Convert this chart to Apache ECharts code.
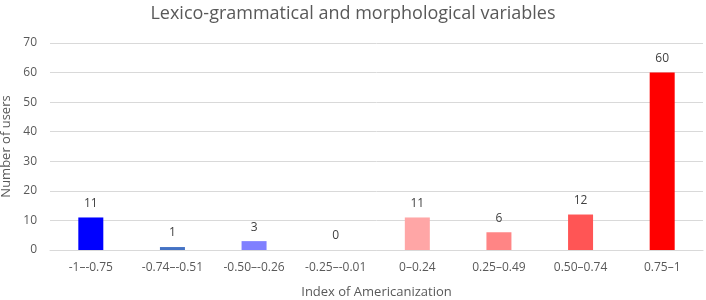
<!DOCTYPE html>
<html>
<head>
<meta charset="utf-8">
<script src="https://cdn.jsdelivr.net/npm/echarts@6/dist/echarts.min.js"></script>
<style>
  html, body { margin: 0; padding: 0; background: #fff; }
  #chart { width: 706px; height: 300px; }
</style>
</head>
<body>
<div id="chart"></div>
<script>
const categories = ['-1–-0.75', '-0.74–-0.51', '-0.50–-0.26', '-0.25–-0.01', '0–0.24', '0.25–0.49', '0.50–0.74', '0.75–1']
const users = [11, 1, 3, 0, 11, 6, 12, 60]
const barColors = ['#0000ff', '#4472c4', '#8080ff', '#c0c0c0', '#ffa6a6', '#ff8585', '#ff5555', '#ff0000']

const font = 'Open Sans, Noto Sans, sans-serif'
const chart = echarts.init(document.getElementById('chart'))

chart.setOption({
  animation: false,
  title: {
    text: 'Lexico-grammatical and morphological variables',
    left: 'center',
    top: 0,
    textStyle: { fontFamily: font, fontSize: 18, fontWeight: 'normal', color: '#595959' }
  },
  grid: { left: 50, right: 3, top: 43, bottom: 50, outerBoundsMode: 'none' },
  xAxis: {
    type: 'category',
    data: categories,
    name: 'Index of Americanization',
    nameLocation: 'middle',
    nameGap: 36,
    nameTextStyle: { fontFamily: font, fontSize: 13, color: '#595959' },
    axisLine: { lineStyle: { color: '#d9d9d9' } },
    axisTick: { show: false },
    axisLabel: { fontFamily: font, fontSize: 12, color: '#595959', margin: 12, interval: 0 }
  },
  yAxis: {
    type: 'value',
    min: 0,
    max: 70,
    interval: 10,
    name: 'Number of users',
    nameLocation: 'middle',
    nameGap: 33,
    nameTextStyle: { fontFamily: font, fontSize: 13, color: '#595959' },
    axisLine: { show: false },
    axisTick: { show: false },
    axisLabel: { fontFamily: font, fontSize: 12, color: '#595959', margin: 13 },
    splitLine: { lineStyle: { color: '#d9d9d9' } }
  },
  series: [
    {
      type: 'bar',
      barWidth: 25,
      data: users.map((v, i) => ({ value: v, itemStyle: { color: barColors[i] } })),
      label: {
        show: true,
        position: 'top',
        distance: 8,
        fontFamily: font,
        fontSize: 12,
        color: '#404040'
      }
    }
  ]
})
</script>
</body>
</html>
